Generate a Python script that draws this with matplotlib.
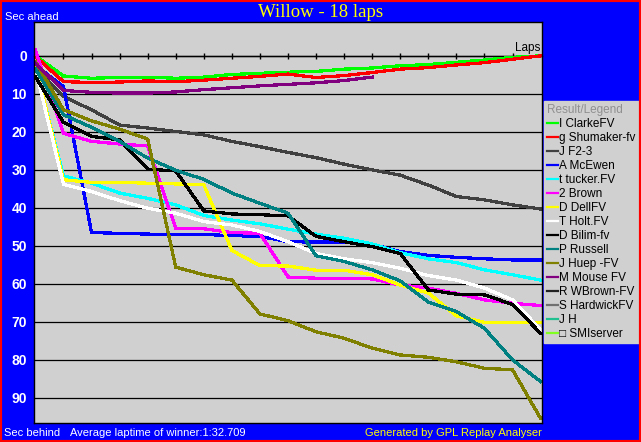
import numpy as np
import matplotlib.pyplot as plt
from matplotlib.lines import Line2D
from matplotlib.patches import Rectangle

plt.rcParams['font.family'] = ['Liberation Sans', 'DejaVu Sans']

# race data: seconds behind (+) / ahead (-) of the winner's average pace, per lap
laps = list(range(0, 19))

drivers = ['I ClarkeFV', 'g Shumaker-fv', 'J F2-3', 'A McEwen', 't tucker.FV',
           '2 Brown', 'D DellFV', 'T Holt.FV', 'D Bilim-fv', 'P Russell',
           'J Huep -FV', 'M Mouse FV', 'R WBrown-FV', 'S HardwickFV', 'J H',
           '\u25a1 SMIserver']
colors = ['#00ff00', '#ff0000', '#404040', '#0000ff', '#00ffff',
          '#ff00ff', '#ffff00', '#ffffff', '#000000', '#008080',
          '#808000', '#800080', '#202020', '#707070', '#20c090', '#80ff20']

clarke = [0, 5.3, 5.9, 5.7, 5.6, 5.9, 5.6, 4.9, 4.6, 4.3, 4.1, 3.5, 3.2, 2.6, 2.3, 1.7, 1.1, 0.4, 0.0]
shumaker = [0.2, 6.8, 7.0, 6.9, 6.6, 6.8, 6.4, 5.9, 5.4, 4.8, 5.7, 5.2, 4.4, 3.5, 3.1, 2.4, 1.8, 0.9, 0.0]
f23 = [3.5, 10.7, 14.2, 18.2, 19.0, 19.9, 20.8, 22.5, 23.9, 25.4, 26.8, 28.5, 30.0, 31.4, 34.0, 37.0, 37.9, 39.2, 40.3]
mcewen = [2.5, 8.1, 46.5, 46.7, 46.9, 47.0, 47.0, 47.3, 47.5, 48.9, 49.0, 49.0, 49.6, 51.5, 52.5, 53.0, 53.4, 53.7, 53.7]
tucker = [3.0, 31.6, 33.5, 36.1, 37.5, 39.2, 42.0, 43.2, 44.2, 45.6, 46.9, 48.0, 49.5, 51.8, 53.4, 54.4, 56.3, 57.6, 59.0]
brown = [-1.5, 20.4, 22.5, 23.2, 23.7, 45.4, 45.5, 46.5, 46.7, 58.2, 58.5, 58.5, 58.7, 60.3, 61.1, 62.5, 64.2, 65.1, 65.7]
dell = [2.5, 32.6, 33.3, 33.3, 33.5, 33.7, 33.9, 51.2, 55.2, 55.3, 56.4, 56.4, 57.6, 60.3, 62.4, 68.4, 70.1, 70.1, 70.1]
holt = [3.5, 33.8, 35.7, 38.1, 40.1, 41.4, 43.6, 44.5, 46.2, 48.9, 52.0, 53.4, 54.4, 55.9, 57.8, 59.0, 61.1, 64.2, 72.1]
bilim = [5.5, 17.5, 21.2, 22.1, 29.8, 30.3, 40.8, 41.6, 41.8, 42.1, 47.5, 48.9, 50.2, 52.0, 61.6, 62.7, 62.9, 65.4, 73.0]
russell = [3.5, 15.5, 18.8, 22.5, 26.9, 30.1, 32.5, 36.1, 38.8, 41.4, 52.6, 54.1, 56.3, 59.2, 64.8, 67.3, 71.7, 80.0, 85.7]
huep = [1.5, 14.2, 17.1, 19.3, 21.9, 55.6, 57.6, 59.0, 67.9, 69.7, 72.6, 74.3, 76.9, 78.7, 79.3, 80.5, 82.2, 82.6, 95.4]
mouse = [2.0, 9.1, 9.6, 9.8, 9.8, 9.5, 8.9, 8.4, 7.9, 7.5, 7.1, 6.5, 5.6]

series = [clarke, shumaker, f23, mcewen, tucker, brown, dell, holt, bilim,
          russell, huep, mouse, [], [], [], []]

fig = plt.figure(figsize=(6.41, 4.42), dpi=100, facecolor='#0000ff')
ax = fig.add_axes([34 / 641, 1 - 423 / 442, 508 / 641, 401 / 442])
ax.set_facecolor('#d0d0d0')

for name, col, vals in zip(drivers, colors, series):
    ax.plot(laps[:len(vals)], vals, color=col, lw=1.6, label=name,
            antialiased=False, solid_joinstyle='miter')

ax.set_xlim(-0.05, 18.05)
ax.set_ylim(96.6, -8.9)
ax.set_yticks(range(0, 100, 10))
ax.set_xticks([])
ax.yaxis.grid(True, color='black', lw=0.9)
ax.set_axisbelow(True)
ax.tick_params(axis='y', length=0, pad=5, labelcolor='white', labelsize=10)
for t in ax.get_yticklabels():
    t.set_fontweight('bold')
for sp in ax.spines.values():
    sp.set_color('black')
    sp.set_linewidth(1)

# lap axis drawn along the zero line
sec = ax.secondary_xaxis(0, transform=ax.transData)
sec.set_xticks(range(1, 18))
sec.tick_params(direction='inout', length=5, width=1, labelbottom=False, labeltop=False)
sec.spines['bottom'].set_linewidth(1)
ax.text(17.98, -0.6, 'Laps', ha='right', va='bottom', fontsize=8.5, color='black')

leg = ax.legend(loc='upper left', bbox_to_anchor=(544 / 641, 1 - 101 / 442),
                bbox_transform=fig.transFigure, fontsize=8.5, frameon=True,
                fancybox=False, facecolor='#d0d0d0', edgecolor='#d0d0d0',
                framealpha=1, handlelength=0.9, handletextpad=0.15,
                labelspacing=0.17, borderpad=0.25, borderaxespad=0,
                title='Result/Legend', title_fontsize=8.5, alignment='left')
leg.get_title().set_color('#909090')
for h in leg.get_lines():
    h.set_linewidth(1.6)

fig.text(0.5, 1 - 17 / 442, 'Willow - 18 laps', ha='center', va='baseline',
         color='#ffff00', fontsize=13.5, family='Liberation Serif')
fig.text(5 / 641, 1 - 20 / 442, 'Sec ahead', color='white', fontsize=8)
fig.text(4 / 641, 1 - 436 / 442, 'Sec behind', color='white', fontsize=8)
fig.text(70 / 641, 1 - 436 / 442, 'Average laptime of winner:1:32.709', color='white', fontsize=8)
fig.text(542 / 641, 1 - 436 / 442, 'Generated by GPL Replay Analyser', color='#ffff00',
         fontsize=8, ha='right')

fig.patches.append(Rectangle((0, 0), 1, 1, transform=fig.transFigure, fill=False,
                             edgecolor='#ff0000', lw=3))

fig.savefig('out.png', dpi=100, facecolor=fig.get_facecolor())
